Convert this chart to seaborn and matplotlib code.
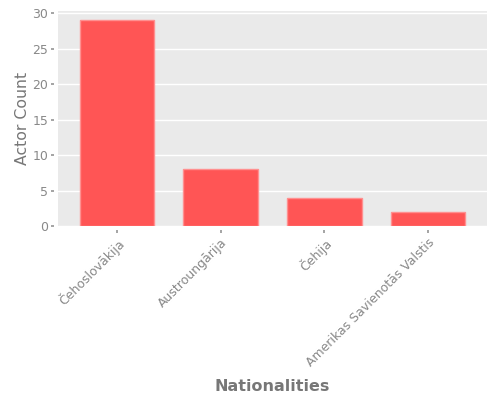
import seaborn as sns
import matplotlib
matplotlib.use("Agg")
import matplotlib.pyplot as plt
import pandas as pd

nationalities = ["Čehoslovākija", "Austroungārija", "Čehija", "Amerikas Savienotās Valstis"]
actor_counts = [29, 8, 4, 2]

df = pd.DataFrame({"Nationalities": nationalities, "Actor Count": actor_counts})

sns.set_theme(style="darkgrid", rc={
    "axes.facecolor": "#EAEAEA",
    "grid.color": "white",
    "axes.edgecolor": "#EAEAEA",
    "xtick.color": "#999999",
    "ytick.color": "#999999",
    "xtick.bottom": True,
    "ytick.left": True,
    "xtick.major.size": 2,
    "ytick.major.size": 2,
})
plt.rcParams["font.family"] = ["DejaVu Sans"]

fig = plt.figure(figsize=(5, 4), dpi=100)
ax = fig.add_axes([0.116, 0.435, 0.858, 0.537])

sns.barplot(data=df, x="Nationalities", y="Actor Count", color="#FF5555",
            saturation=1, width=0.72, edgecolor="#FF9090", linewidth=1, ax=ax)

ax.set_xlim(-0.57, 3.57)
ax.set_ylim(0, 30.3)
ax.set_yticks([0, 5, 10, 15, 20, 25, 30])
ax.spines["left"].set_position(("outward", 3))
ax.spines["bottom"].set_position(("outward", 3))
for s in ax.spines.values():
    s.set_visible(False)
ax.tick_params(axis="both", labelsize=9, labelcolor="#888888", pad=2)
plt.setp(ax.get_xticklabels(), rotation=45, ha="right", rotation_mode="anchor")
ax.set_ylabel("Actor Count", fontsize=11.3, color="#777777", labelpad=2)
ax.set_xlabel("Nationalities", fontsize=11.5, color="#777777", fontweight="bold", labelpad=7)
ax.grid(axis="x", visible=False)

fig.savefig("out.png", dpi=100)
